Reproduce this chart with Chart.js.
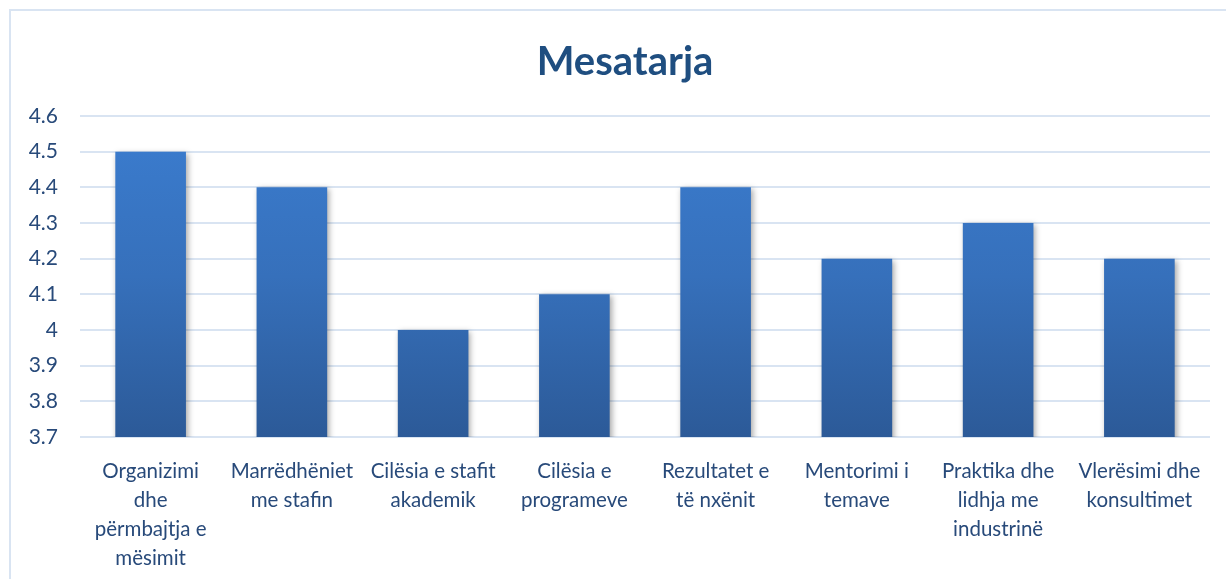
<!DOCTYPE html>
<html>
<head>
<meta charset="utf-8">
<script src="https://cdn.jsdelivr.net/npm/chart.js@4"></script>
<style>
  body { margin: 0; background: #fff; }
  #frame { position: absolute; left: 9px; top: 9px; width: 1240px; height: 600px; border: 2px solid #d9e4f2; }
  #wrap { position: absolute; left: 0; top: 0; width: 1226px; height: 579px; }
</style>
</head>
<body>
<div id="frame"></div>
<div id="wrap"><canvas id="grafico"></canvas></div>
<script>
const kategorite = [
  ['Organizimi', 'dhe', 'përmbajtja e', 'mësimit'],
  ['Marrëdhëniet', 'me stafin'],
  ['Cilësia e stafit', 'akademik'],
  ['Cilësia e', 'programeve'],
  ['Rezultatet e', 'të nxënit'],
  ['Mentorimi i', 'temave'],
  ['Praktika dhe', 'lidhja me', 'industrinë'],
  ['Vlerësimi dhe', 'konsultimet']
];
const mesatarja = [4.5, 4.4, 4.0, 4.1, 4.4, 4.2, 4.3, 4.2];
const yMin = 3.7;
const yMax = 4.6;

// hija e shtyllave
const hije = {
  id: 'hije',
  afterLayout(chart) {
    // titulli pak më djathtas, si në origjinal
    if (chart.titleBlock) chart.titleBlock.left += 20;
  },
  beforeDatasetsDraw(chart) {
    const c = chart.ctx;
    c.save();
    c.shadowColor = 'rgba(0,0,0,0.35)';
    c.shadowBlur = 6;
    c.shadowOffsetX = 2;
    c.shadowOffsetY = 2;
  },
  afterDatasetsDraw(chart) {
    chart.ctx.restore();
  }
};

const ctx = document.getElementById('grafico').getContext('2d');
new Chart(ctx, {
  type: 'bar',
  data: {
    labels: kategorite,
    datasets: [{
      label: 'Mesatarja',
      data: mesatarja,
      backgroundColor: function (context) {
        const area = context.chart.chartArea;
        if (!area) return '#3a7bcc';
        const g = context.chart.ctx.createLinearGradient(0, area.top, 0, area.bottom);
        g.addColorStop(0, '#3b7dd0');
        g.addColorStop(0.5, '#3670bb');
        g.addColorStop(1, '#2c5a98');
        return g;
      },
      borderWidth: 0,
      barPercentage: 0.5,
      categoryPercentage: 1
    }]
  },
  plugins: [hije],
  options: {
    responsive: true,
    maintainAspectRatio: false,
    animation: false,
    layout: { padding: { left: 20, right: 16, top: 0, bottom: 0 } },
    plugins: {
      legend: { display: false },
      tooltip: { enabled: false },
      title: {
        display: true,
        text: 'Mesatarja',
        color: '#1f4e80',
        font: { family: 'Lato', size: 40, weight: 'bold', lineHeight: 1.2 },
        padding: { top: 38, bottom: 30 }
      }
    },
    scales: {
      y: {
        min: yMin,
        max: yMax,
        afterFit: s => { s.width = 60; },
        ticks: {
          stepSize: 0.1,
          padding: 22,
          color: '#284a7a',
          font: { family: 'Lato', size: 21 },
          callback: v => String(Number(v.toFixed(1)))
        },
        grid: { color: '#d9e4f2', lineWidth: 2, drawTicks: false },
        border: { display: false }
      },
      x: {
        afterFit: s => { s.height = 142; },
        ticks: {
          padding: 20,
          maxRotation: 0,
          autoSkip: false,
          color: '#284a7a',
          font: { family: 'Lato', size: 20.5, lineHeight: 1.42 }
        },
        grid: { display: false, drawTicks: false },
        border: { display: false }
      }
    }
  }
});
</script>
</body>
</html>
